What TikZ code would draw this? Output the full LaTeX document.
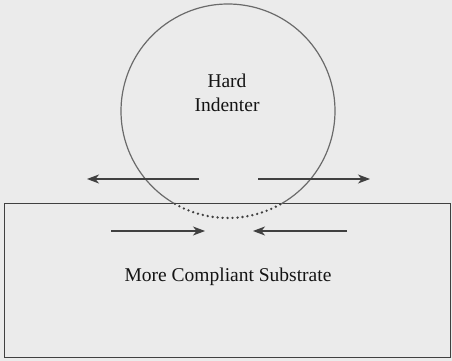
\documentclass[tikz,border=0pt]{standalone}
\usepackage{fontspec}
\setmainfont{Liberation Serif}
\usetikzlibrary{arrows.meta}
\definecolor{paper}{HTML}{EBEBEB}
\definecolor{ink}{HTML}{404040}
\definecolor{rim}{HTML}{6A6A6A}
\begin{document}
\begin{tikzpicture}[
        x=1pt, y=1pt,
        font=\fontsize{19.5}{24}\selectfont,
        every node/.style={text=black!92},
        force arrow/.style={draw=ink, line width=1.1pt, -{Stealth[length=12pt, width=9pt, inset=3.5pt]}},
        rim line/.style={draw=rim, line width=1.2pt},
    ]

    % Nền xám và khung cố định
    \fill[paper] (0,0) rectangle (452,361);
    \useasboundingbox (0,0) rectangle (452,361);

    % Lớp nền (substrate)
    \node[draw=ink, line width=1.3pt, minimum width=446pt, minimum height=154pt,
          inner sep=0pt, anchor=south west] (substrate) at (4,3) {};
    \node (sublabel) at (228,79) [anchor=base] {More Compliant Substrate};

    % Mũi đâm cứng: phần nổi liền nét, phần chìm chấm
    \coordinate (tip) at (228,250);
    \draw[rim line] (tip) ++(-60.3:107) arc[start angle=-60.3, end angle=240.3, radius=107];
    \draw[draw=ink, line width=2.6pt, line cap=round, dash pattern=on 0pt off 5pt]
        (tip) ++(240.3:107) arc[start angle=240.3, end angle=299.7, radius=107];
    \node[align=center] (indlabel) at (227,268) {Hard\\Indenter};

    % Điểm đầu / cuối các mũi tên lực
    \foreach \name/\x/\y in {ul-a/199/182, ul-b/87/182, ur-a/258/182, ur-b/370/182,
                             ll-a/111/130, ll-b/205/130, lr-a/347/130, lr-b/253/130} {
        \coordinate (\name) at (\x,\y);
    }

    % Mũi tên: kéo ra phía trên, nén vào phía dưới
    \foreach \side in {ul, ur, ll, lr} {
        \draw[force arrow] (\side-a) -- (\side-b);
    }

    \end{tikzpicture}
\end{document}
